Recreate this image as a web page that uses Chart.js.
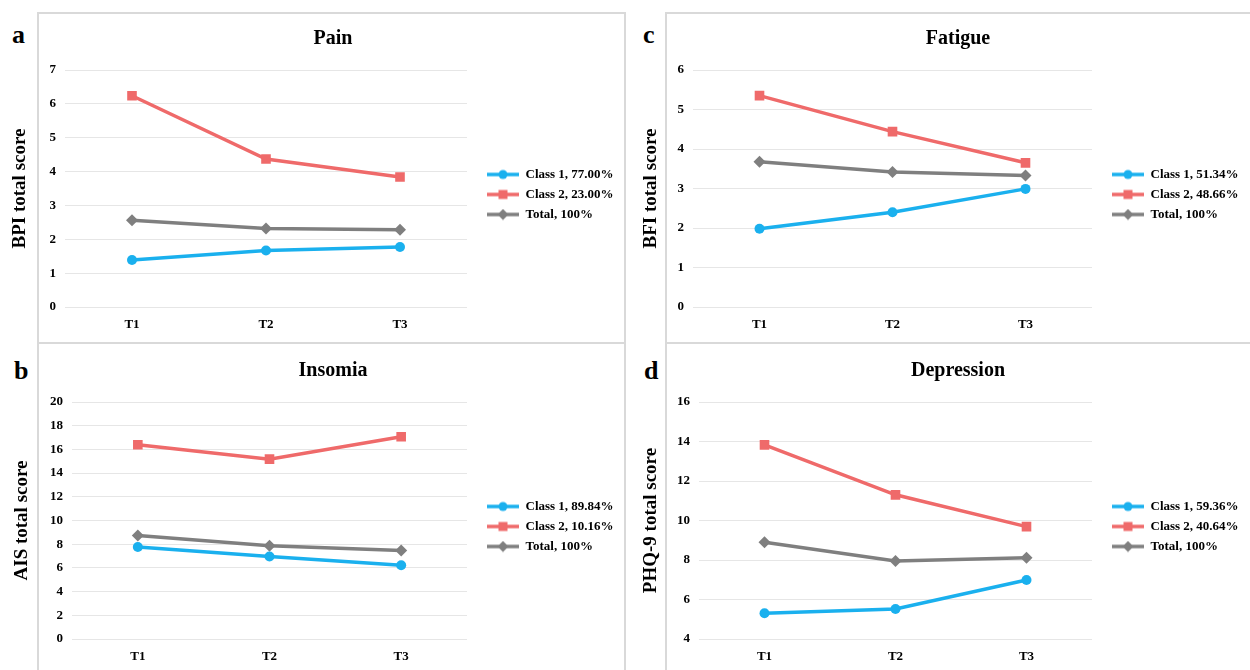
<!DOCTYPE html>
<html>
<head>
<meta charset="utf-8">
<script src="https://cdn.jsdelivr.net/npm/chart.js@4.4.1/dist/chart.umd.min.js"></script>
<style>
  html, body { margin: 0; padding: 0; background: #fff; }
  body { width: 1250px; height: 670px; position: relative; overflow: hidden;
         font-family: 'Liberation Serif', 'Times New Roman', serif; }
  .panel { position: absolute; border: 2px solid #d9d9d9; box-sizing: border-box; }
  .letter { position: absolute; font-weight: bold; font-size: 26px; line-height: 26px; color: #000; }
  canvas { position: absolute; }
</style>
</head>
<body>
<div class="panel" style="left:37px;top:12px;width:589px;height:332px"></div>
<div class="panel" style="left:37px;top:342px;width:589px;height:340px"></div>
<div class="panel" style="left:665px;top:12px;width:600px;height:332px"></div>
<div class="panel" style="left:665px;top:342px;width:600px;height:340px"></div>

<div class="letter" style="left:12px;top:22px">a</div>
<div class="letter" style="left:14px;top:358px">b</div>
<div class="letter" style="left:643px;top:22px">c</div>
<div class="letter" style="left:644px;top:358px">d</div>

<canvas id="painChart" width="625" height="330" style="left:0;top:13px"></canvas>
<canvas id="insomiaChart" width="625" height="330" style="left:0;top:345px"></canvas>
<canvas id="fatigueChart" width="625" height="330" style="left:625px;top:13px"></canvas>
<canvas id="depressionChart" width="625" height="330" style="left:625px;top:345px"></canvas>

<script>
// Time points
const categories = ['T1', 'T2', 'T3'];

// a - Pain (BPI)
const painLabels = ['Class 1, 77.00%', 'Class 2, 23.00%', 'Total, 100%'];
const painClass1 = [1.39, 1.67, 1.77];
const painClass2 = [6.24, 4.37, 3.84];
const painTotal = [2.56, 2.32, 2.28];

// b - Insomia (AIS)
const insomiaLabels = ['Class 1, 89.84%', 'Class 2, 10.16%', 'Total, 100%'];
const insomiaClass1 = [7.77, 6.96, 6.23];
const insomiaClass2 = [16.39, 15.18, 17.07];
const insomiaTotal = [8.73, 7.86, 7.46];

// c - Fatigue (BFI)
const fatigueLabels = ['Class 1, 51.34%', 'Class 2, 48.66%', 'Total, 100%'];
const fatigueClass1 = [1.98, 2.40, 2.99];
const fatigueClass2 = [5.35, 4.44, 3.65];
const fatigueTotal = [3.68, 3.42, 3.33];

// d - Depression (PHQ-9)
const depressionLabels = ['Class 1, 59.36%', 'Class 2, 40.64%', 'Total, 100%'];
const depressionClass1 = [5.30, 5.52, 6.99];
const depressionClass2 = [13.83, 11.30, 9.69];
const depressionTotal = [8.90, 7.95, 8.11];

const colors = ['#1ab0ee', '#ef6a6a', '#7f7f7f'];
const shapes = ['circle', 'rect', 'rectRot'];
const radii = [5, 6.8, 6];

const FONT = "'Liberation Serif', 'Times New Roman', serif";
Chart.defaults.font.family = FONT;
Chart.defaults.font.weight = 'bold';
Chart.defaults.color = '#000';

// legend sample: short line with the marker in the middle (13px empty on the left)
function legendIcon(color, shape) {
  const c = document.createElement('canvas');
  c.width = 45; c.height = 12;
  const g = c.getContext('2d');
  g.strokeStyle = color; g.fillStyle = color; g.lineWidth = 3.5;
  g.beginPath(); g.moveTo(13, 6); g.lineTo(45, 6); g.stroke();
  if (shape === 'circle') {
    g.beginPath(); g.arc(29, 6, 4.5, 0, Math.PI * 2); g.fill();
  } else if (shape === 'rect') {
    g.fillRect(24.5, 1.5, 9, 9);
  } else {
    g.beginPath(); g.moveTo(29, 0.5); g.lineTo(34.5, 6); g.lineTo(29, 11.5); g.lineTo(23.5, 6);
    g.closePath(); g.fill();
  }
  return c;
}
const icons = colors.map((c, i) => legendIcon(c, shapes[i]));

function makeChart(id, title, yTitle, labels, series, yMin, yMax, yStep, plotLeft, yTitleX) {
  const W = 625, plotRight = 467, titleCenter = 333;
  const legendFont = 13, legendPad = 7, boxW = 45;

  // legend width the way Chart.js fits a right-hand legend
  const m = document.createElement('canvas').getContext('2d');
  m.font = 'bold ' + legendFont + 'px ' + FONT;
  const textW = Math.max(...labels.map(t => m.measureText(t).width));
  const legendW = 10 + legendPad + boxW + legendFont / 2 + textW;
  const padRight = W - plotRight - legendW;
  const padLeft = 2 * titleCenter - W + padRight;

  return new Chart(document.getElementById(id), {
    type: 'line',
    data: {
      labels: categories,
      datasets: series.map((d, i) => ({
        label: labels[i],
        data: d,
        borderColor: colors[i],
        backgroundColor: colors[i],
        borderWidth: 3.5,
        pointStyle: shapes[i],
        pointRadius: radii[i],
        pointBorderWidth: 0,
        tension: 0
      }))
    },
    options: {
      responsive: false,
      animation: false,
      layout: { padding: { left: padLeft, right: padRight, top: 0, bottom: 0 } },
      plugins: {
        title: {
          display: true, text: title,
          font: { size: 20, weight: 'bold' },
          padding: { top: 14, bottom: 19 }
        },
        legend: {
          position: 'right',
          fullSize: false,
          maxWidth: 300,
          title: { display: true, text: ' ', font: { size: 5 }, padding: 3 },
          labels: {
            usePointStyle: true,
            pointStyleWidth: boxW,
            padding: legendPad,
            font: { size: legendFont, weight: 'bold' },
            color: '#000',
            generateLabels(chart) {
              const items = Chart.defaults.plugins.legend.labels.generateLabels(chart);
              items.forEach((it, i) => { it.pointStyle = icons[i]; it.lineWidth = 0; it.fontColor = '#000'; });
              return items;
            }
          }
        },
        tooltip: { enabled: false }
      },
      scales: {
        x: {
          offset: true,
          grid: { display: false },
          border: { display: false },
          ticks: { padding: 2, font: { size: 13, weight: 'bold' } },
          afterFit(s) { s.height = 36; }
        },
        y: {
          min: yMin, max: yMax,
          ticks: { stepSize: yStep, padding: 9, font: { size: 13, weight: 'bold' } },
          grid: { color: '#e6e6e6', lineWidth: 1, drawTicks: false },
          border: { display: false },
          title: {
            display: true, text: yTitle,
            font: { size: 19, weight: 'bold' },
            padding: { top: yTitleX - padLeft - 11.4, bottom: 0 }
          },
          afterFit(s) { s.width = plotLeft - padLeft; }
        }
      }
    }
  });
}

makeChart('painChart', 'Pain', 'BPI total score', painLabels,
  [painClass1, painClass2, painTotal], 0, 7, 1, 65, 20);
makeChart('insomiaChart', 'Insomia', 'AIS total score', insomiaLabels,
  [insomiaClass1, insomiaClass2, insomiaTotal], 0, 20, 2, 72, 22);
makeChart('fatigueChart', 'Fatigue', 'BFI total score', fatigueLabels,
  [fatigueClass1, fatigueClass2, fatigueTotal], 0, 6, 1, 68, 26);
makeChart('depressionChart', 'Depression', 'PHQ-9 total score', depressionLabels,
  [depressionClass1, depressionClass2, depressionTotal], 4, 16, 2, 74, 26);
</script>
</body>
</html>
